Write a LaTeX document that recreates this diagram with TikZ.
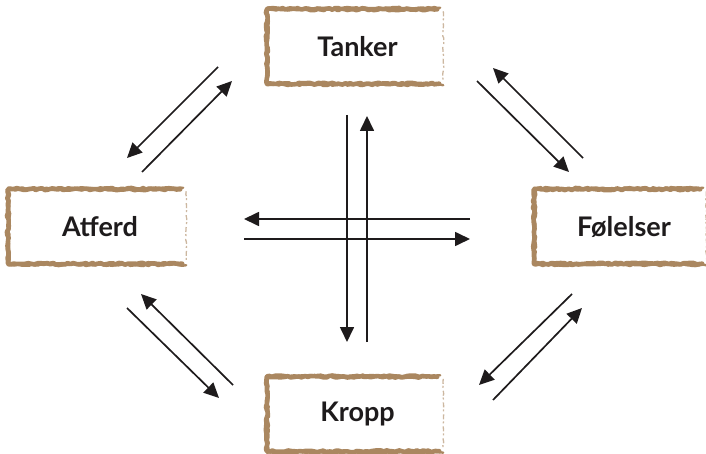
\documentclass[tikz,border=0pt]{standalone}
\usepackage{fontspec}
\setmainfont{Lato}
\usetikzlibrary{arrows.meta,decorations.pathmorphing}
\definecolor{brush}{RGB}{170,135,96}
\definecolor{ink}{RGB}{30,27,28}

% brush-stroke frame round a named node: heavy on three sides, faint on the right
\newcommand\brushframe[1]{%
  \draw[brushline] ([xshift=-6pt]#1.north east) -- (#1.north west) -- (#1.south west) -- ([xshift=-4pt]#1.south east);
  \draw[brushline, line width=2.4pt] ([yshift=1.5pt]#1.north west) -- ([xshift=-3pt,yshift=1.5pt]#1.north east);
  \draw[brushline, line width=2.4pt] ([yshift=-1.5pt]#1.south west) -- ([yshift=-1.5pt]#1.south east);
  \draw[brushline, line width=2.4pt] ([xshift=1.5pt]#1.north west) -- ([xshift=1.5pt]#1.south west);
  \draw[brushfaint] ([yshift=-2pt]#1.north east) -- ([yshift=2pt]#1.south east);
}

\begin{document}
\begin{tikzpicture}[x=1pt,y=-1pt,
  box/.style={inner sep=0pt, minimum width=#1, minimum height=74pt,
    font=\bfseries\fontsize{27}{30}\selectfont, text=ink},
  box/.default=176pt,
  flow/.style={draw=ink, line width=1.7pt, -{Triangle[length=15pt,width=14pt]}},
  brushline/.style={draw=brush, line width=4.6pt, line join=round, line cap=round,
    decorate, decoration={random steps, segment length=3pt, amplitude=0.9pt}},
  brushfaint/.style={draw=brush!60, line width=1.3pt, dash pattern=on 5pt off 2pt on 2pt off 3pt,
    decorate, decoration={random steps, segment length=3pt, amplitude=0.6pt}},
]
\useasboundingbox (0,0) rectangle (706,454);
\pgfmathsetseed{7}

% the four boxes
\node[box]        (tanker)   at (355,46.5)  {\hspace{5pt}Tanker};
\node[box=178pt]  (atferd)   at (97,226.5)  {\hspace{6pt}Atferd};
\node[box=176pt]  (kropp)    at (355,414)   {\hspace{5pt}Kropp};
\node[box=172pt]  (folelser) at (620,226.5) {\hspace{8pt}Følelser};

\brushframe{tanker}
\brushframe{atferd}
\brushframe{kropp}
\brushframe{folelser}

% arrow end points
\coordinate (ta1) at (218,67);   \coordinate (at1) at (127,158);
\coordinate (at2) at (142,172);  \coordinate (ta2) at (232,81);
\coordinate (fo1) at (583,158);  \coordinate (tf1) at (493,68);
\coordinate (tf2) at (477,81);   \coordinate (fo2) at (569,172);
\coordinate (ka1) at (233,385);  \coordinate (ak1) at (141,294);
\coordinate (ak2) at (127,308);  \coordinate (ka2) at (219,398);
\coordinate (fk1) at (572,294);  \coordinate (kf1) at (479,385);
\coordinate (kf2) at (493,400);  \coordinate (fk2) at (582,308);
\coordinate (vt1) at (347,115);  \coordinate (vb1) at (347,342);
\coordinate (vb2) at (367,342);  \coordinate (vt2) at (367,116);
\coordinate (hr1) at (470,219);  \coordinate (hl1) at (244,219);
\coordinate (hl2) at (244,239);  \coordinate (hr2) at (470,239);

% connectors
\draw[flow] (ta1) -- (at1);
\draw[flow] (at2) -- (ta2);
\draw[flow] (fo1) -- (tf1);
\draw[flow] (tf2) -- (fo2);
\draw[flow] (ka1) -- (ak1);
\draw[flow] (ak2) -- (ka2);
\draw[flow] (fk1) -- (kf1);
\draw[flow] (kf2) -- (fk2);
\draw[flow] (vt1) -- (vb1);
\draw[flow] (vb2) -- (vt2);
\draw[flow] (hr1) -- (hl1);
\draw[flow] (hl2) -- (hr2);
\end{tikzpicture}
\end{document}
